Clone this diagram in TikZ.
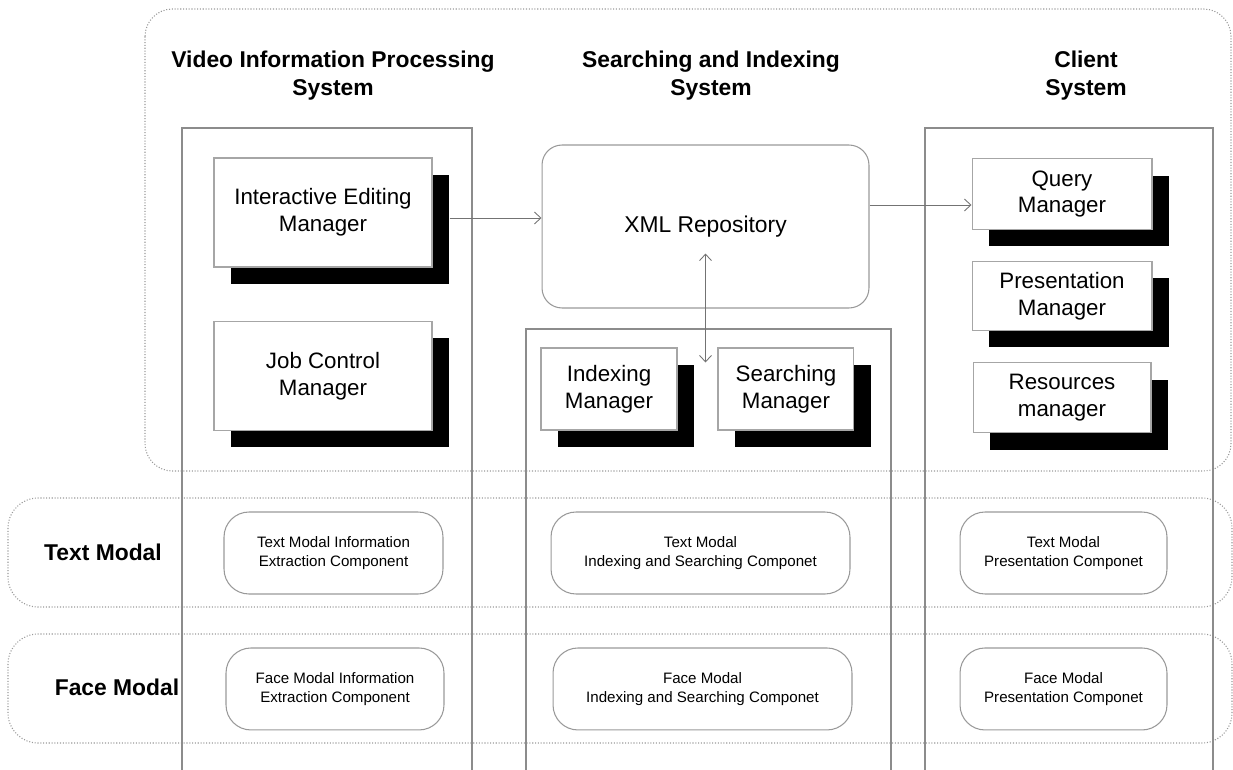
\documentclass[tikz,border=0pt]{standalone}
\usepackage{fontspec}
\setmainfont{Liberation Sans}
\usetikzlibrary{positioning,shadows,arrows.meta}

\begin{document}
\begin{tikzpicture}[x=0.02cm, y=-0.02cm, node distance=2.04cm]

    % Styles des noeuds
    \tikzstyle{titre} = [align=center, font=\fontsize{13}{15.9}\selectfont\bfseries]
    \tikzstyle{modal} = [font=\fontsize{13}{15.9}\selectfont\bfseries]
    \tikzstyle{manager} = [rectangle, minimum width=4.36cm, minimum height=2.18cm, align=center, draw=gray!70, line width=0.6pt, fill=white, font=\fontsize{12.7}{15.3}\selectfont, drop shadow={shadow xshift=0.34cm, shadow yshift=-0.34cm, fill=black, opacity=1}]
    \tikzstyle{depot} = [rectangle, rounded corners=0.4cm, minimum width=6.54cm, minimum height=3.26cm, draw=gray!80, line width=0.6pt, font=\fontsize{13}{15.7}\selectfont]
    \tikzstyle{component} = [rectangle, rounded corners=0.5cm, minimum height=1.64cm, align=center, draw=gray!80, line width=0.6pt, font=\fontsize{8.6}{10.5}\selectfont]
    \tikzstyle{cadre} = [densely dotted, gray!80, line width=0.6pt, rounded corners=0.55cm]
    \tikzstyle{colonne} = [gray!90, line width=0.6pt]
    \tikzstyle{arrow} = [-{Straight Barb[length=1.3mm,width=2.4mm]}, gray!90!black, line width=0.5pt]
    \tikzstyle{dblarrow} = [{Straight Barb[length=1.3mm,width=2.4mm]}-{Straight Barb[length=1.3mm,width=2.4mm]}, gray!90!black, line width=0.5pt]

    \useasboundingbox (0,0) rectangle (1233,770);

    % Cadres
    \draw [cadre] (145,9) rectangle (1231,471);
    \draw [cadre, rounded corners=0.6cm] (8,498) rectangle (1232,607);
    \draw [cadre, rounded corners=0.6cm] (8,634) rectangle (1232,743);
    \draw [colonne] (182,775) |- (472,128) -- (472,775);
    \draw [colonne] (526,775) |- (891,329) -- (891,775);
    \draw [colonne] (925,775) |- (1213,128) -- (1213,775);

    % Titres
    \node (vipt) [titre] at (333,76) {Video Information Processing\\System};
    \node (sist) [titre] at (711,76) {Searching and Indexing\\System};
    \node (clit) [titre] at (1086,76) {Client\\System};

    % Noeuds
    \node (iem) [manager] at (323,212.5) {Interactive Editing\\Manager};
    \node (jcm) [manager, below of=iem, yshift=-1.23cm] {Job Control\\Manager};
    \node (xml) [depot] at (705.5,226.5) {XML Repository};
    \node (idx) [manager, minimum width=2.72cm, minimum height=1.64cm] at (609,389) {Indexing\\Manager};
    \node (srch) [manager, minimum width=2.72cm, minimum height=1.64cm, right of=idx, xshift=1.5cm] {Searching\\Manager};
    \node (query) [manager, minimum width=3.6cm, minimum height=1.42cm] at (1062,194) {Query\\Manager};
    \node (pres) [manager, minimum width=3.6cm, minimum height=1.38cm, below of=query] {Presentation\\Manager};
    \node (res) [manager, minimum width=3.56cm, minimum height=1.4cm, below of=pres] {Resources\\manager};

    % Flèches
    \coordinate (iemout) at ([xshift=0.34cm, yshift=-0.11cm]iem.east);
    \draw [arrow] (iemout) -- (iemout -| xml.west);
    \coordinate (qin) at ([yshift=-0.22cm]query.west);
    \draw [arrow] (qin -| xml.east) -- (qin);
    \coordinate (xmlbas) at ([yshift=1.1cm]xml.south);
    \coordinate (sisbas) at ([yshift=-1.08cm]xml.south);
    \draw [dblarrow] (xmlbas) -- (sisbas);

    % Modalités
    \node (tm) [modal] at (103,552) {Text Modal};
    \node (fm) [modal] at (117,687) {Face Modal};
    \node (tvip) [component, minimum width=4.38cm] at (333.5,553) {Text Modal Information\\Extraction Component};
    \node (tsis) [component, minimum width=5.98cm] at (700.5,553) {Text Modal\\Indexing and Searching Componet};
    \node (tcli) [component, minimum width=4.14cm] at (1063.5,553) {Text Modal\\Presentation Componet};
    \node (fvip) [component, minimum width=4.36cm, below of=tvip, xshift=0.03cm, yshift=-0.68cm] {Face Modal Information\\Extraction Component};
    \node (fsis) [component, minimum width=5.98cm, below of=tsis, xshift=0.04cm, yshift=-0.68cm] {Face Modal\\Indexing and Searching Componet};
    \node (fcli) [component, minimum width=4.14cm, below of=tcli, yshift=-0.68cm] {Face Modal\\Presentation Componet};

\end{tikzpicture}
\end{document}
